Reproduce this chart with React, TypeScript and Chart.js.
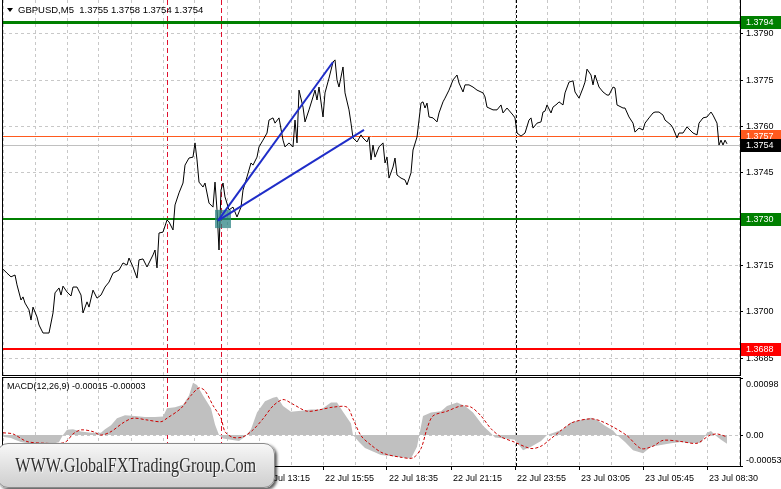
import React, { useEffect, useRef } from "react";
import { Chart, registerables } from "chart.js";

Chart.register(...registerables);

const FONT = '"Liberation Sans", Arial, sans-serif';
const TITLE = "GBPUSD,M5  1.3755 1.3758 1.3754 1.3754";
const MACD_TITLE = "MACD(12,26,9) -0.00015 -0.00003";
const WATERMARK = "WWW.GlobalFXTradingGroup.Com";

// bar index (5-minute bars) and close prices
const priceBars = [
  0, 2, 4, 6, 7, 9, 10, 11, 13, 14,
  15, 17, 18, 20, 23, 25, 26, 28, 29, 30,
  32, 34, 35, 37, 39, 40, 42, 43, 45, 47,
  49, 51, 53, 55, 58, 60, 62, 63, 65, 67,
  68, 70, 72, 75, 76, 77, 78, 80, 82, 83,
  85, 86, 88, 90, 91, 93, 95, 96, 97, 98,
  100, 101, 103, 105, 106, 107, 108, 109, 110, 111,
  113, 115, 117, 119, 120, 122, 124, 125, 127, 128,
  130, 132, 133, 135, 136, 138, 140, 141, 143, 145,
  146, 147, 148, 150, 151, 153, 155, 156, 157, 158,
  160, 161, 163, 165, 166, 167, 168, 170, 171, 173,
  174, 175, 177, 179, 180, 182, 183, 184, 185, 186,
  188, 190, 191, 192, 193, 195, 196, 197, 199, 201,
  202, 204, 205, 207, 208, 209, 210, 211, 212, 213,
  215, 217, 218, 220, 221, 223, 225, 227, 228, 230,
  231, 233, 235, 237, 240, 241, 242, 245, 247, 249,
  250, 252, 255, 256, 257, 259, 261, 263, 264, 265,
  267, 269, 270, 271, 272, 274, 275, 277, 278, 280,
  281, 283, 285, 286, 288, 290, 291, 292, 294, 295,
  296, 298, 300, 302, 303, 305, 306, 307, 310, 311,
  313, 315, 316, 318, 320, 321, 323, 325, 326, 328,
  330, 331, 334, 335, 337, 338, 340, 342, 343, 345,
  347, 348, 350, 352, 354, 355, 357, 358, 359, 360,
  361, 362,
];
const priceValues = [
  1.37138, 1.37125, 1.37113, 1.37119, 1.37087, 1.37038, 1.37048, 1.37028, 1.37006, 1.36973,
  1.37015, 1.36983, 1.36957, 1.36931, 1.36931, 1.36996, 1.37061, 1.37077, 1.37054, 1.37083,
  1.37064, 1.37051, 1.3708, 1.3708, 1.37054, 1.36996, 1.37032, 1.37015, 1.3707, 1.37044,
  1.37054, 1.3708, 1.37096, 1.37125, 1.37135, 1.37158, 1.37151, 1.37174, 1.37145, 1.37109,
  1.37168, 1.37171, 1.37145, 1.37184, 1.372, 1.37142, 1.37255, 1.37258, 1.37297, 1.37291,
  1.37265, 1.37346, 1.37385, 1.37417, 1.37475, 1.37498, 1.37501, 1.37547, 1.37492, 1.3742,
  1.37404, 1.37417, 1.37352, 1.37339, 1.3742, 1.3733, 1.372, 1.37394, 1.37417, 1.37372,
  1.3733, 1.37339, 1.37307, 1.37339, 1.37394, 1.37437, 1.37482, 1.37475, 1.37501, 1.37534,
  1.37556, 1.37579, 1.37621, 1.37628, 1.37611, 1.37628, 1.37556, 1.37534, 1.37547, 1.37534,
  1.37621, 1.37547, 1.37718, 1.37663, 1.37615, 1.37654, 1.37696, 1.37718, 1.37686, 1.37728,
  1.37631, 1.37709, 1.37757, 1.37809, 1.37816, 1.37751, 1.37728, 1.37793, 1.37709, 1.37654,
  1.37611, 1.37563, 1.3755, 1.37573, 1.37563, 1.3755, 1.37566, 1.37492, 1.3754, 1.37501,
  1.37534, 1.37547, 1.37482, 1.37501, 1.37433, 1.37469, 1.37498, 1.37443, 1.37433, 1.37427,
  1.37411, 1.3745, 1.37524, 1.37566, 1.37621, 1.37676, 1.3768, 1.3766, 1.37676, 1.37631,
  1.37628, 1.37615, 1.37644, 1.3768, 1.37692, 1.37718, 1.37751, 1.37767, 1.37741, 1.37712,
  1.37735, 1.37735, 1.37728, 1.37718, 1.37709, 1.37696, 1.37663, 1.37654, 1.37654, 1.3767,
  1.37644, 1.3766, 1.37637, 1.37628, 1.37579, 1.37569, 1.37579, 1.37621, 1.37628, 1.37595,
  1.37611, 1.37615, 1.37647, 1.3765, 1.3767, 1.37644, 1.37663, 1.37673, 1.3768, 1.3767,
  1.37709, 1.37744, 1.37748, 1.37712, 1.37692, 1.37725, 1.37744, 1.37786, 1.37767, 1.37735,
  1.37767, 1.37728, 1.37712, 1.37702, 1.37702, 1.37728, 1.37725, 1.3767, 1.3766, 1.3766,
  1.37631, 1.37611, 1.37582, 1.37595, 1.37589, 1.37611, 1.37628, 1.37644, 1.37647, 1.37647,
  1.37637, 1.37621, 1.37605, 1.37595, 1.37563, 1.37579, 1.37579, 1.37599, 1.37592, 1.37579,
  1.37573, 1.37611, 1.37628, 1.37631, 1.37647, 1.37637, 1.37611, 1.3754, 1.37556, 1.3754,
  1.37556, 1.37544,
];

// MACD main line (histogram) and signal line
const macdBars = [
  0, 4, 6, 9, 14, 19, 24, 28, 30, 32,
  35, 39, 44, 49, 51, 54, 57, 61, 66, 71,
  76, 80, 82, 86, 90, 93, 95, 97, 100, 104,
  106, 108, 110, 114, 118, 121, 124, 127, 131, 135,
  137, 140, 144, 149, 154, 159, 164, 167, 170, 174,
  175, 178, 181, 185, 189, 194, 199, 204, 207, 210,
  214, 219, 222, 227, 231, 235, 240, 244, 246, 251,
  256, 260, 264, 269, 272, 276, 280, 284, 289, 294,
  297, 301, 305, 307, 311, 315, 320, 324, 329, 334,
  339, 344, 349, 352, 354, 356, 359, 362,
];
const macdValues = [
  -0.00003, -0.00005, -0.00008, -0.00012, -0.00015, -0.00017, -0.00016, -0.00012, 0, 0.00009,
  0.0001, 0.00006, 0.00004, 0.00004, 0.0001, 0.00017, 0.00029, 0.00034, 0.00033, 0.00031,
  0.00031, 0.00032, 0.00046, 0.00048, 0.00052, 0.00068, 0.0009, 0.00086, 0.00068, 0.00046,
  0.00018, 0, -0.00006, -0.00008, -0.0001, -0.00003, 0.0001, 0.00039, 0.00058, 0.00064,
  0.00066, 0.0005, 0.0004, 0.00042, 0.00044, 0.00044, 0.00056, 0.00056, 0.0004, 0.0002,
  0, -0.00012, -0.00022, -0.00028, -0.00034, -0.00036, -0.00038, -0.0004, -0.0002, 0.00033,
  0.00039, 0.00041, 0.0005, 0.00056, 0.0005, 0.00039, 0.00016, 0.00003, -0.00004, -0.00006,
  -0.00008, -0.00026, -0.0002, -0.0001, 0, 0.00005, 0.0001, 0.00022, 0.00026, 0.0003,
  0.00026, 0.00016, 0.00008, 0, -0.00012, -0.00026, -0.00031, -0.0002, -0.00017, -0.00014,
  -0.00012, -0.00014, -0.00013, 0.00004, 0.00007, 0, -0.00008, -0.00015,
];
const signalBars = [
  0, 5, 12, 21, 29, 32, 35, 39, 45, 49,
  54, 60, 65, 72, 79, 82, 89, 94, 98, 101,
  105, 109, 111, 115, 120, 125, 130, 135, 140, 145,
  152, 159, 165, 172, 175, 179, 184, 190, 199, 205,
  209, 212, 215, 222, 229, 234, 239, 244, 249, 255,
  264, 269, 274, 279, 285, 294, 299, 305, 312, 319,
  325, 330, 339, 347, 353, 357, 362,
];
const signalValues = [
  0.00004, 0.00002, -0.00011, -0.00014, -0.00014, -0.0001, 0.00002, 0.00009, 0.00006, 0,
  0.00006, 0.00021, 0.00029, 0.00026, 0.00023, 0.00029, 0.00046, 0.00068, 0.00081, 0.00076,
  0.00051, 0.00029, 0.00006, -0.00004, -0.00003, 0.00009, 0.00028, 0.0005, 0.00061, 0.00053,
  0.00041, 0.00044, 0.00048, 0.00048, 0.00028, -0.00001, -0.00017, -0.00031, -0.00038, -0.00039,
  -0.00023, 0.00011, 0.00033, 0.00041, 0.0005, 0.00048, 0.00033, 0.00011, -0.00003, -0.00011,
  -0.00023, -0.00019, -0.00006, 0.00008, 0.00022, 0.00028, 0.00024, 0.00014, -0.00001, -0.00023,
  -0.00019, -0.00009, -0.00011, -0.00014, -0.00001, 0.00002, -0.00003,
];

// axes
const timeTickBars = [0, 32, 64, 96, 128, 160, 192, 224, 256, 288, 320, 352];
const timeTickLabels = [
  "22 Jul 02:35", "22 Jul 05:15", "22 Jul 07:55", "22 Jul 10:35", "22 Jul 13:15", "22 Jul 15:55",
  "22 Jul 18:35", "22 Jul 21:15", "22 Jul 23:55", "23 Jul 03:05", "23 Jul 05:45", "23 Jul 08:30",
];
const gridStepBars = 16;
const priceTicks = [1.3685, 1.37, 1.3715, 1.373, 1.3745, 1.376, 1.3775, 1.379];
const macdTicks = [-0.00053, 0, 0.00098];

// horizontal levels
const levelPrices = [1.3794, 1.3757, 1.3754, 1.373, 1.3688];
// vertical markers
const redLineBars = [82, 109];
const daySeparatorBars = [256.5];
// trend lines: [bar, price]
const trendStart = [107.5, 1.37295];
const trendEnds = [
  [165, 1.37809],
  [180.5, 1.37589],
];
// entry zone box: [bar from, bar to, price low, price high]
const entryBox = [106, 114, 1.37271, 1.3733];

const X_MIN = 0;
const X_MAX = 368.5;
const Y_MIN = 1.36795;
const Y_MAX = 1.3801;

const levelStyle = [
  { color: "#008000", width: 3, box: "#008000" },
  { color: "#ff5a1e", width: 1, box: "#ff5a1e" },
  { color: "#c0c0c0", width: 1, box: "#000000" },
  { color: "#008000", width: 2, box: "#008000" },
  { color: "#ff0000", width: 2, box: "#ff0000" },
];

function gridTicks() {
  const t: { value: number }[] = [];
  for (let v = X_MIN; v <= X_MAX; v += gridStepBars) t.push({ value: v });
  return t;
}

function noPad(s: any) {
  s.paddingTop = 0;
  s.paddingBottom = 0;
  s.paddingLeft = 0;
  s.paddingRight = 0;
}

function drawVLines(ctx: CanvasRenderingContext2D, xs: any, a: any) {
  ctx.save();
  ctx.lineWidth = 1;
  ctx.setLineDash([5, 3]);
  ctx.strokeStyle = "#e0102e";
  redLineBars.forEach((b) => {
    const px = Math.round(xs.getPixelForValue(b)) + 0.5;
    ctx.beginPath();
    ctx.moveTo(px, a.top);
    ctx.lineTo(px, a.bottom);
    ctx.stroke();
  });
  ctx.setLineDash([3, 2]);
  ctx.strokeStyle = "#000000";
  daySeparatorBars.forEach((b) => {
    const px = Math.round(xs.getPixelForValue(b)) + 0.5;
    ctx.beginPath();
    ctx.moveTo(px, a.top);
    ctx.lineTo(px, a.bottom);
    ctx.stroke();
  });
  ctx.restore();
}

function drawFrame(ctx: CanvasRenderingContext2D, a: any) {
  ctx.save();
  ctx.strokeStyle = "#000";
  ctx.lineWidth = 1;
  ctx.setLineDash([]);
  ctx.strokeRect(a.left - 0.5, a.top - 0.5, a.right - a.left + 1, a.bottom - a.top + 1);
  ctx.restore();
}

export default function App() {
  const mainRef = useRef<HTMLCanvasElement>(null);
  const macdRef = useRef<HTMLCanvasElement>(null);

  useEffect(() => {
    document.body.style.margin = "0";
    document.body.style.background = "#fff";

    const pricePoints = priceBars.map((b, i) => ({ x: b, y: priceValues[i] }));
    const macdPoints = macdBars.map((b, i) => ({ x: b, y: macdValues[i] }));
    const signalPoints = signalBars.map((b, i) => ({ x: b, y: signalValues[i] }));

    const mainDecor = {
      id: "mainDecor",
      beforeDatasetsDraw(chart: any) {
        const { ctx, chartArea: a, scales } = chart;
        const y = scales.y;
        ctx.save();
        ctx.beginPath();
        ctx.rect(a.left, a.top, a.right - a.left, a.bottom - a.top);
        ctx.clip();
        drawVLines(ctx, scales.x, a);
        levelPrices.forEach((p, i) => {
          const st = levelStyle[i];
          const py = Math.round(y.getPixelForValue(p)) + (st.width % 2 ? 0.5 : 0);
          ctx.strokeStyle = st.color;
          ctx.lineWidth = st.width;
          ctx.beginPath();
          ctx.moveTo(a.left, py);
          ctx.lineTo(a.right, py);
          ctx.stroke();
        });
        ctx.restore();
      },
      afterDatasetsDraw(chart: any) {
        const { ctx, chartArea: a, scales } = chart;
        const { x, y } = scales;
        ctx.save();
        ctx.beginPath();
        ctx.rect(a.left, a.top, a.right - a.left, a.bottom - a.top);
        ctx.clip();
        const bx1 = x.getPixelForValue(entryBox[0]);
        const bx2 = x.getPixelForValue(entryBox[1]);
        const by1 = y.getPixelForValue(entryBox[3]);
        const by2 = y.getPixelForValue(entryBox[2]);
        ctx.fillStyle = "rgba(38,128,128,0.72)";
        ctx.fillRect(bx1, by1, bx2 - bx1, by2 - by1);
        ctx.strokeStyle = "#1f2dc8";
        ctx.lineWidth = 2;
        trendEnds.forEach((e) => {
          ctx.beginPath();
          ctx.moveTo(x.getPixelForValue(trendStart[0]), y.getPixelForValue(trendStart[1]));
          ctx.lineTo(x.getPixelForValue(e[0]), y.getPixelForValue(e[1]));
          ctx.stroke();
        });
        ctx.restore();
      },
      afterDraw(chart: any) {
        const { ctx, chartArea: a, scales } = chart;
        const y = scales.y;
        drawFrame(ctx, a);
        ctx.save();
        ctx.font = `9px ${FONT}`;
        ctx.textBaseline = "middle";
        ctx.textAlign = "left";
        levelPrices.forEach((p, i) => {
          const st = levelStyle[i];
          const py = Math.round(y.getPixelForValue(p));
          ctx.fillStyle = st.box;
          ctx.fillRect(a.right + 1, py - 6, 40, 13);
          ctx.fillStyle = "#fff";
          ctx.fillText(p.toFixed(4), a.right + 6, py + 0.5);
        });
        ctx.fillStyle = "#000";
        ctx.beginPath();
        ctx.moveTo(7, 8);
        ctx.lineTo(13, 8);
        ctx.lineTo(10, 12);
        ctx.closePath();
        ctx.fill();
        ctx.font = `9.5px ${FONT}`;
        ctx.fillText(TITLE, 18, 10.5);
        ctx.restore();
      },
    };

    const macdDecor = {
      id: "macdDecor",
      beforeDatasetsDraw(chart: any) {
        const { ctx, chartArea: a, scales } = chart;
        ctx.save();
        ctx.beginPath();
        ctx.rect(a.left, a.top, a.right - a.left, a.bottom - a.top);
        ctx.clip();
        drawVLines(ctx, scales.x, a);
        ctx.restore();
      },
      afterDraw(chart: any) {
        const { ctx, chartArea: a, scales } = chart;
        const y = scales.y;
        drawFrame(ctx, a);
        ctx.save();
        ctx.font = `9px ${FONT}`;
        ctx.fillStyle = "#000";
        ctx.textAlign = "left";
        ctx.textBaseline = "middle";
        ctx.fillText(MACD_TITLE, 7, 9.5);
        const shift = [-5, 0, 7];
        macdTicks.forEach((v, i) => {
          const py = y.getPixelForValue(v) + shift[i];
          ctx.fillText(v === 0 ? "0.00" : v.toFixed(5), a.right + 6, py);
        });
        ctx.restore();
      },
    };

    const gridDash = [3, 3];

    const mainChart = new Chart(mainRef.current as HTMLCanvasElement, {
      type: "line",
      data: {
        datasets: [
          {
            data: pricePoints,
            borderColor: "#000",
            borderWidth: 1,
            pointRadius: 0,
            tension: 0,
          },
        ],
      },
      options: {
        responsive: false,
        animation: false,
        events: [],
        layout: { padding: { left: 3, top: 0, right: 0, bottom: 2 } },
        plugins: { legend: { display: false }, tooltip: { enabled: false } },
        scales: {
          x: {
            type: "linear",
            min: X_MIN,
            max: X_MAX,
            afterBuildTicks: (s: any) => {
              s.ticks = gridTicks();
            },
            afterFit: (s: any) => {
              s.height = 0;
              noPad(s);
            },
            ticks: { display: false },
            grid: { color: "#c8c8c8", drawTicks: false, lineWidth: 1 },
            border: { display: false, dash: gridDash },
          },
          y: {
            position: "right",
            min: Y_MIN,
            max: Y_MAX,
            afterBuildTicks: (s: any) => {
              s.ticks = priceTicks.map((v) => ({ value: v }));
            },
            afterFit: (s: any) => {
              s.width = 41;
              noPad(s);
            },
            ticks: {
              font: { family: FONT, size: 9 },
              color: "#000",
              padding: 3,
              callback: (v: any) => Number(v).toFixed(4),
            },
            grid: { color: "#c8c8c8", tickLength: 3, tickColor: "#000" },
            border: { display: false, dash: gridDash },
          },
        },
      } as any,
      plugins: [mainDecor],
    });

    const macdChart = new Chart(macdRef.current as HTMLCanvasElement, {
      type: "line",
      data: {
        datasets: [
          {
            data: signalPoints,
            borderColor: "#cc0000",
            borderWidth: 1,
            borderDash: [3, 2],
            pointRadius: 0,
            tension: 0.3,
            order: 0,
          },
          {
            data: macdPoints,
            borderWidth: 0,
            borderColor: "rgba(0,0,0,0)",
            backgroundColor: "#c0c0c0",
            fill: "origin",
            pointRadius: 0,
            tension: 0,
            order: 1,
          },
        ],
      },
      options: {
        responsive: false,
        animation: false,
        events: [],
        layout: { padding: { left: 3, top: 1, right: 0, bottom: 1 } },
        plugins: { legend: { display: false }, tooltip: { enabled: false } },
        scales: {
          x: {
            type: "linear",
            min: X_MIN,
            max: X_MAX,
            afterBuildTicks: (s: any) => {
              s.ticks = gridTicks();
            },
            afterFit: (s: any) => {
              s.height = 22;
              noPad(s);
            },
            ticks: {
              font: { family: FONT, size: 9 },
              color: "#000",
              align: "start",
              maxRotation: 0,
              minRotation: 0,
              autoSkip: false,
              padding: 3,
              labelOffset: 2,
              callback: (v: any) => {
                const i = timeTickBars.indexOf(Number(v));
                return i >= 0 ? timeTickLabels[i] : "";
              },
            },
            grid: {
              color: "#c8c8c8",
              tickLength: 4,
              tickColor: (c: any) =>
                c.tick && timeTickBars.indexOf(c.tick.value) >= 0 ? "#000" : "rgba(0,0,0,0)",
            },
            border: { display: false, dash: gridDash },
          },
          y: {
            position: "right",
            min: macdTicks[0],
            max: macdTicks[2],
            afterBuildTicks: (s: any) => {
              s.ticks = macdTicks.map((v) => ({ value: v }));
            },
            afterFit: (s: any) => {
              s.width = 41;
              noPad(s);
            },
            ticks: { display: false },
            grid: {
              color: (c: any) => (c.tick && c.tick.value === 0 ? "#c8c8c8" : "rgba(0,0,0,0)"),
              tickLength: 3,
              tickColor: "#000",
            },
            border: { display: false, dash: gridDash },
          },
        },
      } as any,
      plugins: [macdDecor],
    });

    return () => {
      mainChart.destroy();
      macdChart.destroy();
    };
  }, []);

  return (
    <div
      style={{
        position: "relative",
        width: 781,
        height: 489,
        background: "#fff",
        overflow: "hidden",
      }}
    >
      <canvas
        ref={mainRef}
        width={781}
        height={377}
        style={{ position: "absolute", left: 0, top: 0, width: 781, height: 377 }}
      />
      <canvas
        ref={macdRef}
        width={781}
        height={112}
        style={{ position: "absolute", left: 0, top: 377, width: 781, height: 112 }}
      />
      <div
        style={{
          position: "absolute",
          left: -3,
          top: 443,
          width: 276,
          height: 43,
          borderRadius: 11,
          background: "linear-gradient(#f7f7f7, #dedede 60%, #cfcfcf)",
          border: "1px solid #8a8a8a",
          boxShadow: "2px 2px 3px rgba(0,0,0,0.65)",
          display: "flex",
          alignItems: "center",
          justifyContent: "center",
          overflow: "hidden",
        }}
      >
        <span
          style={{
            display: "inline-block",
            fontFamily: '"Liberation Serif", "Times New Roman", serif',
            fontSize: 20,
            color: "#2e2e2e",
            textShadow: "1px 1px 1px #ffffff",
            whiteSpace: "nowrap",
            transform: "scaleX(0.81)",
            transformOrigin: "center",
          }}
        >
          {WATERMARK}
        </span>
      </div>
    </div>
  );
}
